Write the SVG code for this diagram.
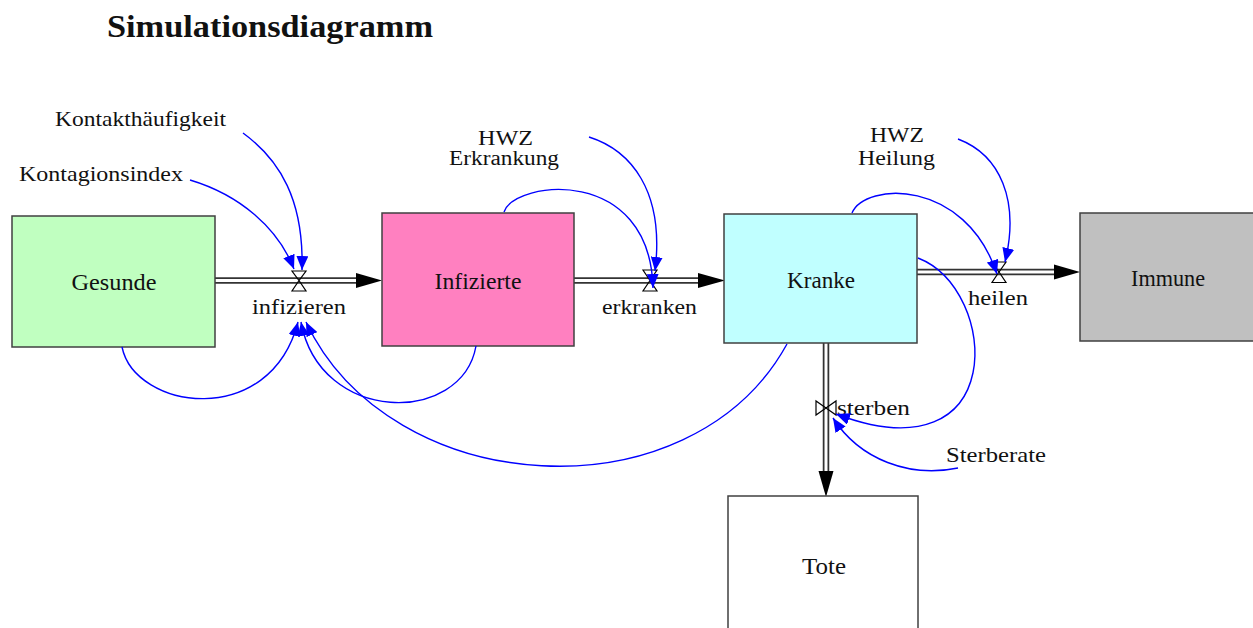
<svg xmlns="http://www.w3.org/2000/svg" width="1253" height="628" viewBox="0 0 1253 628">
<style>
  .stock { stroke: #404040; stroke-width: 1.5; }
  .lbl { font-family: "Liberation Serif", "Times New Roman", serif; font-size: 22px; fill: #111; }
  .sm { font-size: 20px; }
  .nlbl { font-family: "Liberation Serif", "Times New Roman", serif; font-size: 23px; fill: #111; text-anchor: middle; }
  .title { font-family: "Liberation Serif", "Times New Roman", serif; font-size: 31px; font-weight: bold; fill: #111; }
  .pipeO { stroke: #333; stroke-width: 6.5; fill: none; }
  .pipeI { stroke: #fff; stroke-width: 3; fill: none; }
  .head { fill: #000; }
  .valve { fill: none; stroke: #000; stroke-width: 1.2; }
  .link { fill: none; stroke: #0000ff; stroke-width: 1.4; marker-end: url(#blueArrow); }
</style>
<defs>
  <marker id="blueArrow" markerUnits="userSpaceOnUse" markerWidth="14" markerHeight="12" refX="14" refY="6" orient="auto">
    <path d="M0,0 L14,6 L0,12 z" fill="#0000ff"/>
  </marker>
</defs>
<rect width="1253" height="628" fill="#fff"/>

<text class="title" x="107" y="37" textLength="326" lengthAdjust="spacingAndGlyphs">Simulationsdiagramm</text>

<!-- Flow pipes -->
<g id="pipes">
  <line class="pipeO" x1="215" y1="280.5" x2="360" y2="280.5"/>
  <line class="pipeI" x1="215" y1="280.5" x2="362" y2="280.5"/>
  <polygon class="head" points="356,273 382,280.5 356,288"/>

  <line class="pipeO" x1="574" y1="280.5" x2="702" y2="280.5"/>
  <line class="pipeI" x1="574" y1="280.5" x2="704" y2="280.5"/>
  <polygon class="head" points="698,273 725,280.5 698,288"/>

  <line class="pipeO" x1="917" y1="272" x2="1058" y2="272"/>
  <line class="pipeI" x1="917" y1="272" x2="1060" y2="272"/>
  <polygon class="head" points="1054,264.5 1080,272 1054,279.5"/>

  <line class="pipeO" x1="826" y1="343" x2="826" y2="474"/>
  <line class="pipeI" x1="826" y1="343" x2="826" y2="476"/>
  <polygon class="head" points="818.5,471 826,497 833.5,471"/>
</g>

<!-- Stocks -->
<g id="Gesunde">
  <rect class="stock" x="12" y="216" width="203" height="131" fill="#c0ffc0"/>
  <text class="nlbl" x="114" y="290" textLength="85" lengthAdjust="spacingAndGlyphs">Gesunde</text>
</g>
<g id="Infizierte">
  <rect class="stock" x="382" y="213" width="192" height="133" fill="#ff80c0"/>
  <text class="nlbl" x="478" y="289" textLength="87" lengthAdjust="spacingAndGlyphs">Infizierte</text>
</g>
<g id="Kranke">
  <rect class="stock" x="724" y="214" width="193" height="129" fill="#c0ffff"/>
  <text class="nlbl" x="821" y="288" textLength="68" lengthAdjust="spacingAndGlyphs">Kranke</text>
</g>
<g id="Immune">
  <rect class="stock" x="1080" y="213" width="180" height="128" fill="#c0c0c0"/>
  <text class="nlbl" x="1168" y="286" textLength="74" lengthAdjust="spacingAndGlyphs">Immune</text>
</g>
<g id="Tote">
  <rect class="stock" x="728" y="496" width="190" height="140" fill="#fff"/>
  <text class="nlbl" x="824" y="574" textLength="44" lengthAdjust="spacingAndGlyphs">Tote</text>
</g>

<!-- Flows (valves) -->
<g id="infizieren">
  <path class="valve" d="M292,271 L306,271 L299,280.5 Z M299,280.5 L292,291 L306,291 Z"/>
  <text class="lbl" x="299" y="314" text-anchor="middle" textLength="94" lengthAdjust="spacingAndGlyphs">infizieren</text>
</g>
<g id="erkranken">
  <path class="valve" d="M643,270 L657,270 L650,280.5 Z M650,280.5 L643,291 L657,291 Z"/>
  <text class="lbl" x="649.5" y="314" text-anchor="middle" textLength="95" lengthAdjust="spacingAndGlyphs">erkranken</text>
</g>
<g id="heilen">
  <path class="valve" d="M992,262 L1006,262 L999,272 Z M999,272 L992,282.5 L1006,282.5 Z"/>
  <text class="lbl" x="998" y="305" text-anchor="middle" textLength="60" lengthAdjust="spacingAndGlyphs">heilen</text>
</g>
<g id="sterben">
  <path class="valve" d="M816,401 L816,415 L826,408 Z M826,408 L836,401 L836,415 Z"/>
  <text class="lbl" x="837" y="415" textLength="73" lengthAdjust="spacingAndGlyphs">sterben</text>
</g>

<!-- Auxiliaries -->
<g id="Kontakthaeufigkeit">
  <text class="lbl" x="55" y="126" textLength="171" lengthAdjust="spacingAndGlyphs">Kontakthäufigkeit</text>
</g>
<g id="Kontagionsindex">
  <text class="lbl" x="19" y="181" textLength="164" lengthAdjust="spacingAndGlyphs">Kontagionsindex</text>
</g>
<g id="HWZ_Erkrankung">
  <text class="lbl sm" x="505.5" y="145" text-anchor="middle" textLength="55" lengthAdjust="spacingAndGlyphs">HWZ</text>
  <text class="lbl sm" x="504" y="165" text-anchor="middle" textLength="110" lengthAdjust="spacingAndGlyphs">Erkrankung</text>
</g>
<g id="HWZ_Heilung">
  <text class="lbl sm" x="897" y="142" text-anchor="middle" textLength="54" lengthAdjust="spacingAndGlyphs">HWZ</text>
  <text class="lbl sm" x="896.5" y="165" text-anchor="middle" textLength="77" lengthAdjust="spacingAndGlyphs">Heilung</text>
</g>
<g id="Sterberate">
  <text class="lbl" x="946" y="462" textLength="100" lengthAdjust="spacingAndGlyphs">Sterberate</text>
</g>

<!-- Connectors -->
<g id="connectors">
  <path class="link" d="M243,133 C280,160 304,200 302,270"/>
  <path class="link" d="M190,180 C240,195 278,228 294,269"/>
  <path class="link" d="M122,347 C135,410 270,430 298,322"/>
  <path class="link" d="M476,346 C462,425 320,425 301,322"/>
  <path class="link" d="M787,344 C690,520 390,500 306,322"/>
  <path class="link" d="M504,212 C515,180 650,165 653,288"/>
  <path class="link" d="M589,137 C630,150 665,190 655,271"/>
  <path class="link" d="M852,213 C865,182 965,178 997,274"/>
  <path class="link" d="M958,139 C1000,155 1020,200 1005,262"/>
  <path class="link" d="M918,258 C1000,290 1010,480 836,414"/>
  <path class="link" d="M958,468 C910,478 860,460 833,418"/>
</g>
</svg>
